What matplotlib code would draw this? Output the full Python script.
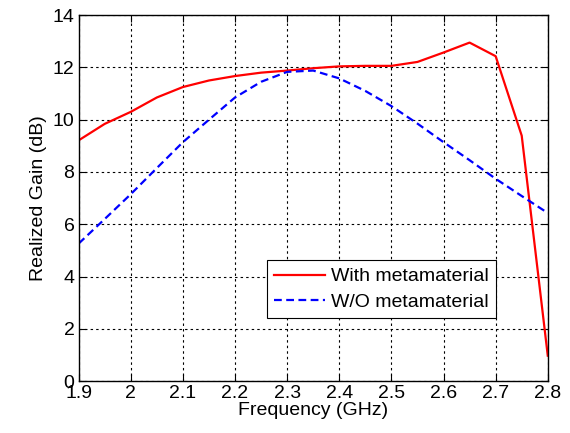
import matplotlib
matplotlib.use("Agg")
import matplotlib.pyplot as plt

plt.rcParams['font.family'] = ['Liberation Sans', 'DejaVu Sans']

freq_ghz = [1.90, 1.95, 2.00, 2.05, 2.10, 2.15, 2.20, 2.25, 2.30, 2.35,
            2.40, 2.45, 2.50, 2.55, 2.60, 2.65, 2.70, 2.75, 2.80]
gain_with_meta = [9.21, 9.84, 10.30, 10.85, 11.25, 11.50, 11.67, 11.80, 11.88, 11.97,
                  12.04, 12.06, 12.06, 12.21, 12.57, 12.95, 12.43, 9.39, 0.97]
gain_without_meta = [5.26, 6.20, 7.15, 8.15, 9.14, 10.00, 10.85, 11.45, 11.83, 11.88,
                     11.58, 11.10, 10.52, 9.85, 9.14, 8.45, 7.74, 7.08, 6.43]

x_ticks = [1.9, 2.0, 2.1, 2.2, 2.3, 2.4, 2.5, 2.6, 2.7, 2.8]
x_tick_labels = ['1.9', '2', '2.1', '2.2', '2.3', '2.4', '2.5', '2.6', '2.7', '2.8']
y_ticks = [0, 2, 4, 6, 8, 10, 12, 14]

fig = plt.figure(figsize=(5.70, 4.33), dpi=100)
ax = fig.add_axes([0.138, 0.12, 0.823, 0.845])

ax.plot(freq_ghz, gain_with_meta, color='#ff0000', linewidth=1.6,
        linestyle='-', label='With metamaterial')
ax.plot(freq_ghz, gain_without_meta, color='#0000ff', linewidth=1.6,
        linestyle=(0, (3.5, 2)), label='W/O metamaterial')

ax.set_xlim(1.9, 2.8)
ax.set_ylim(0, 14)
ax.set_xticks(x_ticks)
ax.set_xticklabels(x_tick_labels)
ax.set_yticks(y_ticks)

ax.grid(True, color='black', linestyle=(0, (2.2, 2.8)), linewidth=0.8)
ax.tick_params(direction='in', top=True, right=True, length=5, width=0.8,
               labelsize=14, pad=3)
for sp in ax.spines.values():
    sp.set_linewidth(1.0)
    sp.set_color('black')

ax.set_xlabel('Frequency (GHz)', fontsize=14, labelpad=0)
ax.set_ylabel('Realized Gain (dB)', fontsize=14, labelpad=4)

leg = ax.legend(loc='lower left', bbox_to_anchor=(0.401, 0.172), borderaxespad=0,
                fontsize=14, frameon=True, fancybox=False, framealpha=1,
                edgecolor='black', handlelength=2.6, handletextpad=0.3,
                borderpad=0.38, labelspacing=0.4)
leg.get_frame().set_linewidth(0.8)

fig.savefig('out.png', dpi=100)
